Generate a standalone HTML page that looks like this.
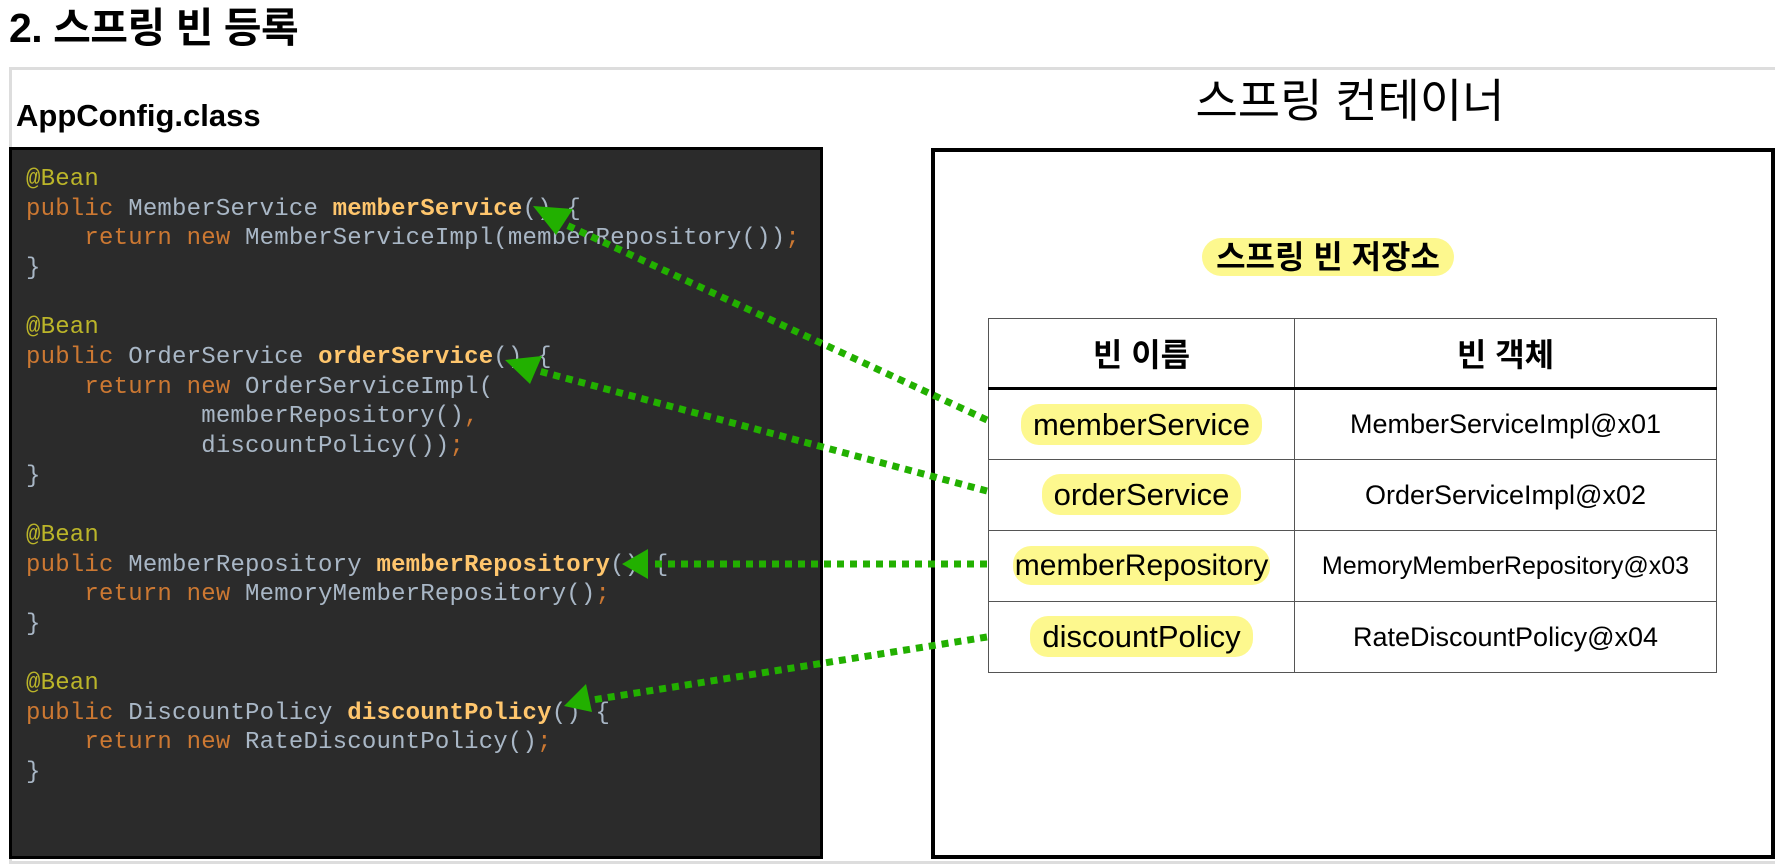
<!DOCTYPE html>
<html><head><meta charset="utf-8"><style>
*{margin:0;padding:0;box-sizing:border-box}
body{width:1780px;height:868px;background:#fff;position:relative;overflow:hidden;font-family:"Liberation Sans","Noto Sans CJK KR",sans-serif;color:#000}
.a{position:absolute}
#title{left:9px;top:4px;font-size:41px;font-weight:bold;line-height:48px;letter-spacing:-0.5px}
#outer{left:9px;top:67px;width:1766px;height:797px;border:3px solid #ddd;border-right:none}
#app{left:16px;top:97px;font-size:31px;font-weight:bold;line-height:38px}
#code{left:9px;top:147px;width:814px;height:712px;background:#2b2b2b;border:3px solid #000}
pre{position:absolute;left:14px;top:15px;font-family:"Liberation Mono",monospace;font-size:24px;line-height:29.65px;color:#a9b7c6;letter-spacing:0.2px}
.k{color:#cc7832}.an{color:#bbb529}.m{color:#ffc66d;font-weight:bold}
#ctitle{left:1100px;top:74px;width:500px;text-align:center;font-size:46px;line-height:54px}
#cbox{left:931px;top:148px;width:844px;height:711px;border:4px solid #000}
#store{left:1202px;top:238px;width:252px;height:38px;background:#fdf88e;border-radius:19px;font-size:32px;font-weight:bold;text-align:center;line-height:38px;white-space:nowrap}
table{position:absolute;left:988px;top:318px;border-collapse:collapse;font-size:31px}
td{border:1.5px solid #555;text-align:center;height:71px;white-space:nowrap}
tr.h td{font-weight:bold;border-bottom:3px solid #000;height:70px;font-size:32px}
td.n{width:306px}td.o{width:422px;font-size:27px}
.hl{background:#fdf88e;border-radius:18px;padding:3px 12px}
</style></head><body>
<div class="a" id="title">2. 스프링 빈 등록</div>
<div class="a" id="outer"></div>
<div class="a" id="app">AppConfig.class</div>
<div class="a" id="code"><pre><span class="an">@Bean</span>
<span class="k">public</span> MemberService <span class="m">memberService</span>() {
    <span class="k">return new</span> MemberServiceImpl(memberRepository())<span class="k">;</span>
}

<span class="an">@Bean</span>
<span class="k">public</span> OrderService <span class="m">orderService</span>() {
    <span class="k">return new</span> OrderServiceImpl(
            memberRepository()<span class="k">,</span>
            discountPolicy())<span class="k">;</span>
}

<span class="an">@Bean</span>
<span class="k">public</span> MemberRepository <span class="m">memberRepository</span>() {
    <span class="k">return new</span> MemoryMemberRepository()<span class="k">;</span>
}

<span class="an">@Bean</span>
<span class="k">public</span> DiscountPolicy <span class="m">discountPolicy</span>() {
    <span class="k">return new</span> RateDiscountPolicy()<span class="k">;</span>
}</pre></div>
<div class="a" id="ctitle">스프링 컨테이너</div>
<div class="a" id="cbox"></div>
<div class="a" id="store">스프링 빈 저장소</div>
<table>
<tr class="h"><td class="n">빈 이름</td><td class="o" style="font-size:32px">빈 객체</td></tr>
<tr><td class="n"><span class="hl">memberService</span></td><td class="o">MemberServiceImpl@x01</td></tr>
<tr><td class="n"><span class="hl">orderService</span></td><td class="o">OrderServiceImpl@x02</td></tr>
<tr><td class="n" style="font-size:30px"><span class="hl" style="padding:3px 2px">memberRepository</span></td><td class="o" style="font-size:25px">MemoryMemberRepository@x03</td></tr>
<tr><td class="n"><span class="hl">discountPolicy</span></td><td class="o">RateDiscountPolicy@x04</td></tr>
</table>
<svg class="a" style="left:0;top:0" width="1780" height="868">
<g stroke="#22b000" stroke-width="7" stroke-dasharray="7 6" fill="none">
<line x1="987" y1="420" x2="560" y2="222"/>
<line x1="987" y1="491" x2="535" y2="370"/>
<line x1="987" y1="564" x2="650" y2="564"/>
<line x1="987" y1="637" x2="592" y2="700"/>
</g>
<g fill="#22b000">
<polygon points="533,206 573,209 556,235"/>
<polygon points="505,360 542,356 530,384"/>
<polygon points="622,564 648,549 648,579"/>
<polygon points="564,706 586,684 592,712"/>
</g>
</svg>
</body></html>
